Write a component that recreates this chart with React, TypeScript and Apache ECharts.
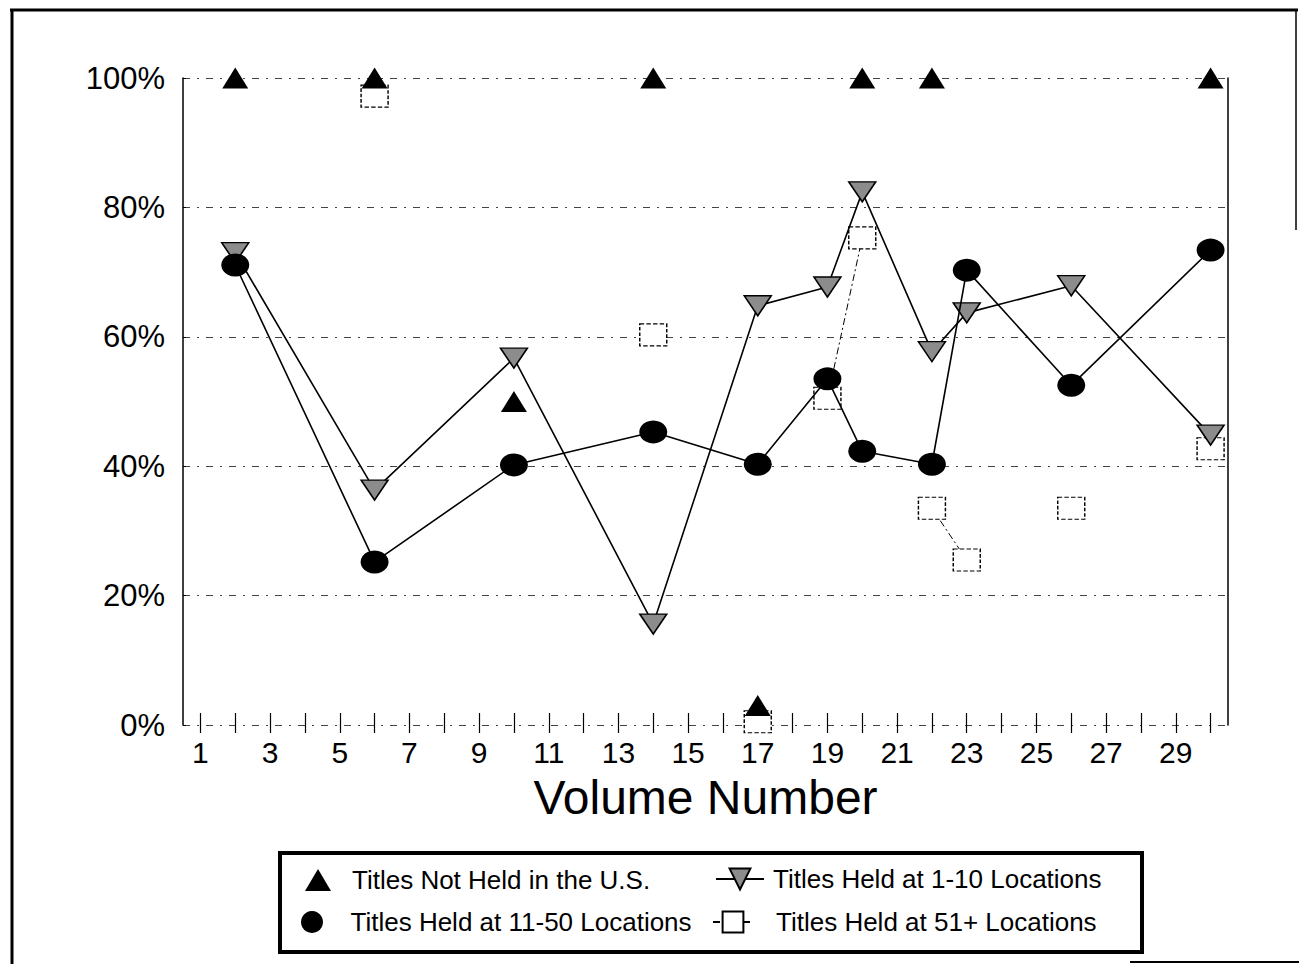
import React, { useEffect, useRef } from "react";
import * as echarts from "echarts";

const volumeLabels = [
  "1", "2", "3", "4", "5", "6", "7", "8", "9", "10",
  "11", "12", "13", "14", "15", "16", "17", "18", "19", "20",
  "21", "22", "23", "24", "25", "26", "27", "28", "29", "30",
];
const yTicks = [0, 20, 40, 60, 80, 100];

const sampleVolumes = [2, 6, 10, 14, 17, 19, 20, 22, 23, 26, 30];
const notHeldUS = [100, 100, 50, 100, 3, null, 100, 100, null, null, 100];
const held1to10 = [73, 36.3, 56.7, 15.6, 64.8, 67.7, 82.4, 57.7, 63.7, 67.9, 44.8];
const held11to50 = [71.1, 25.2, 40.2, 45.3, 40.3, 53.5, 42.3, 40.3, 70.3, 52.5, 73.4];
const held51plus = [null, 97.2, null, 60.3, 0.5, 50.5, 75.3, 33.5, 25.5, 33.5, 42.7];

const seriesNames = [
  "Titles Not Held in the U.S.",
  "Titles Held at 1-10 Locations",
  "Titles Held at 11-50 Locations",
  "Titles Held at 51+ Locations",
];

function toFull(values: (number | null)[]) {
  const out: (number | null)[] = volumeLabels.map(() => null);
  sampleVolumes.forEach((v, i) => {
    out[v - 1] = values[i];
  });
  return out;
}

const FONT = "'Liberation Sans', Arial, Helvetica, sans-serif";

export default function App() {
  const ref = useRef<HTMLDivElement>(null);
  useEffect(() => {
    if (!ref.current) return;
    const chart = echarts.init(ref.current, undefined, { renderer: "svg" });

    const invTri = "path://M0,0L20,0L10,18Z";

    const legendBase = {
      orient: "horizontal",
      padding: 0,
      selectedMode: false,
      textStyle: { fontFamily: FONT, fontSize: 26, color: "#000" },
    };

    const option: any = {
      animation: false,
      backgroundColor: "#ffffff",
      grid: { left: 183, right: 71, top: 78, bottom: 239, containLabel: false },
      xAxis: {
        type: "category",
        data: volumeLabels,
        boundaryGap: true,
        offset: -12,
        axisLine: { show: false },
        axisTick: {
          show: true,
          alignWithLabel: true,
          interval: 0,
          length: 20,
          lineStyle: { color: "#000", width: 1.2 },
        },
        axisLabel: {
          interval: 1,
          margin: 24,
          fontFamily: FONT,
          fontSize: 30,
          color: "#000",
        },
        splitLine: { show: false },
        name: "Volume Number",
        nameLocation: "middle",
        nameGap: 60,
        nameTextStyle: { fontFamily: FONT, fontSize: 48, color: "#000" },
      },
      yAxis: [
        {
          type: "value",
          min: 0,
          max: 100,
          interval: 20,
          axisLine: { show: true, lineStyle: { color: "#000", width: 1.5 } },
          axisTick: { show: true, inside: true, length: 3, lineStyle: { color: "#000" } },
          axisLabel: {
            margin: 18,
            fontFamily: FONT,
            fontSize: 31,
            color: "#000",
            formatter: (v: number) => (yTicks.includes(v) ? v + "%" : ""),
          },
          splitLine: {
            show: true,
            lineStyle: { color: "#444", width: 1.2, type: [7, 7, 2, 7] },
          },
        },
        {
          type: "value",
          min: 0,
          max: 100,
          interval: 20,
          position: "right",
          axisLine: { show: true, lineStyle: { color: "#000", width: 1.5 } },
          axisTick: { show: false },
          axisLabel: { show: false },
          splitLine: { show: false },
        },
      ],
      legend: [
        {
          ...legendBase,
          left: 305,
          top: 867,
          itemWidth: 26,
          itemHeight: 22,
          data: [{ name: seriesNames[0] }],
          textStyle: { ...legendBase.textStyle, padding: [0, 0, 0, 16] },
        },
        {
          ...legendBase,
          left: 715,
          top: 866,
          itemWidth: 48,
          itemHeight: 26,
          data: [{ name: seriesNames[1] }],
          textStyle: { ...legendBase.textStyle, padding: [0, 0, 0, 4] },
        },
        {
          ...legendBase,
          left: 301,
          top: 909,
          itemWidth: 23,
          itemHeight: 22,
          data: [{ name: seriesNames[2], icon: "circle" }],
          textStyle: { ...legendBase.textStyle, padding: [0, 0, 0, 22] },
        },
        {
          ...legendBase,
          left: 712,
          top: 909,
          itemWidth: 40,
          itemHeight: 26,
          data: [{ name: seriesNames[3] }],
          textStyle: { ...legendBase.textStyle, padding: [0, 0, 0, 18] },
        },
      ],
      graphic: [
        { type: "line", shape: { x1: 10, y1: 10, x2: 1298, y2: 10 }, style: { stroke: "#000", lineWidth: 3 } },
        { type: "line", shape: { x1: 12, y1: 10, x2: 12, y2: 964 }, style: { stroke: "#000", lineWidth: 3 } },
        { type: "line", shape: { x1: 1296, y1: 10, x2: 1296, y2: 230 }, style: { stroke: "#000", lineWidth: 1.5 } },
        { type: "line", shape: { x1: 1130, y1: 962, x2: 1299, y2: 962 }, style: { stroke: "#000", lineWidth: 2 } },
        {
          type: "rect",
          shape: { x: 280, y: 853, width: 862, height: 99 },
          style: { fill: "none", stroke: "#000", lineWidth: 4 },
          z: 10,
        },
      ],
      series: [
        {
          name: seriesNames[3],
          type: "line",
          data: toFull(held51plus),
          connectNulls: false,
          symbol: "rect",
          symbolSize: [27, 22],
          itemStyle: { color: "#ffffff", borderColor: "#000", borderWidth: 1.3, borderType: [4, 2] },
          lineStyle: { color: "#000", width: 1, type: [7, 3, 2, 3] },
          z: 2,
        },
        {
          name: seriesNames[1],
          type: "line",
          data: toFull(held1to10),
          connectNulls: true,
          symbol: invTri,
          symbolSize: [27, 20],
          itemStyle: { color: "#8c8c8c", borderColor: "#000", borderWidth: 1.5 },
          lineStyle: { color: "#000", width: 1.6 },
          z: 3,
        },
        {
          name: seriesNames[2],
          type: "line",
          data: toFull(held11to50),
          connectNulls: true,
          symbol: "circle",
          symbolSize: [28, 23],
          itemStyle: { color: "#000" },
          lineStyle: { color: "#000", width: 1.6 },
          z: 4,
        },
        {
          name: seriesNames[0],
          type: "scatter",
          data: toFull(notHeldUS),
          symbol: "triangle",
          symbolSize: [26, 21],
          itemStyle: { color: "#000", opacity: 1 },
          z: 5,
        },
      ],
    };
    chart.setOption(option);
    return () => chart.dispose();
  }, []);

  return (
    <div
      ref={ref}
      style={{ position: "fixed", left: 0, top: 0, width: 1299, height: 964, background: "#fff" }}
    />
  );
}
